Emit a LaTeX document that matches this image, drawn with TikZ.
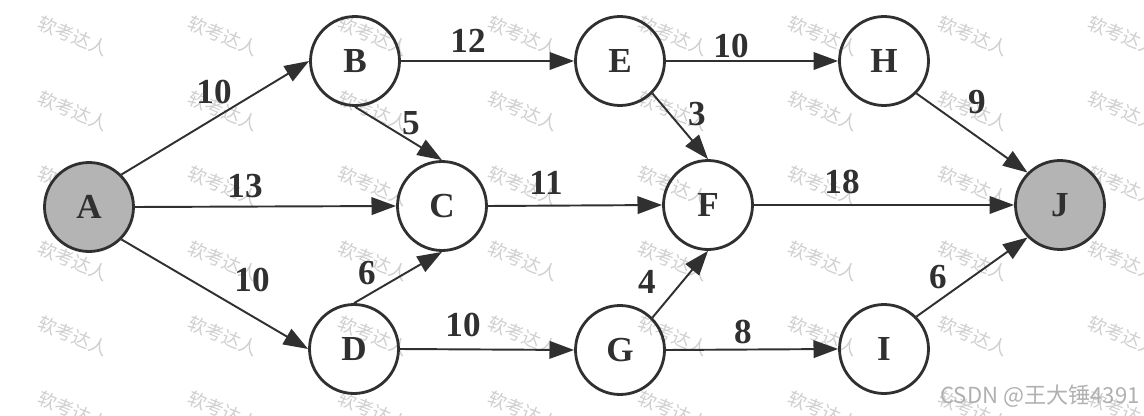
\documentclass[tikz,border=0pt]{standalone}
\usepackage{fontspec}
\setmainfont{Liberation Serif}
\newfontfamily\cjk{Noto Sans CJK SC}
\usetikzlibrary{arrows.meta}
\definecolor{ink}{HTML}{303030}
\definecolor{nodegray}{HTML}{B4B4B4}
\definecolor{wmgray}{HTML}{CFCFCF}
\definecolor{csdngray}{HTML}{B0B0B0}
\tikzset{
  vtx/.style={circle, draw=ink, line width=1.6pt, minimum size=1.78cm, inner sep=0pt,
    font=\fontsize{20}{20}\selectfont\bfseries, text=ink},
  endvtx/.style={vtx, fill=nodegray},
  conn/.style={draw=ink, line width=1.1pt, -{Triangle[length=14pt, width=10pt]}},
  wlabel/.style={font=\fontsize{20}{20}\selectfont\bfseries, text=ink, inner sep=0pt},
  wmark/.style={font=\cjk\fontsize{10.5}{10.5}\selectfont, text=wmgray, rotate=-22, inner sep=0pt}
}
\begin{document}
\begin{tikzpicture}[x=0.02cm, y=-0.02cm]
\useasboundingbox (0,0) rectangle (1144,416);
% watermarks
\foreach \c [count=\ci] in {73,223,373,523,673,823,973,1123}{
  \foreach \r [count=\ri] in {36,111,186,261,336,411}{
    \node[wmark] (wm-\ci-\ri) at (\c,\r) {软考达人};
  }
}
% vertices
\node[endvtx] (A) at (89,207) {A};
\node[vtx] (B) at (355,61) {B};
\node[vtx] (C) at (442,206) {C};
\node[vtx] (D) at (354,349) {D};
\node[vtx] (E) at (620,61) {E};
\node[vtx] (F) at (708,205) {F};
\node[vtx] (G) at (620,350) {G};
\node[vtx] (H) at (884,61) {H};
\node[vtx] (I) at (884,349) {I};
\node[endvtx] (J) at (1060,205) {J};
% connectors
\draw[conn] (A.north east) -- (B.west);
\draw[conn] (A.east) -- (C.west);
\draw[conn] (A.south east) -- (D.west);
\draw[conn] (B.east) -- (E.west);
\draw[conn] (B.south) -- (C.north);
\draw[conn] (D.north) -- (C.south);
\draw[conn] (D.east) -- (G.west);
\draw[conn] (C.east) -- (F.west);
\draw[conn] (E.east) -- (H.west);
\draw[conn] (E.south east) -- (F.north);
\draw[conn] (G.north east) -- (F.south);
\draw[conn] (G.east) -- (I.west);
\draw[conn] (F.east) -- (J.west);
\draw[conn] (H.south east) -- (J.north west);
\draw[conn] (I.north east) -- (J.south west);
% weights
\node[wlabel] (wAB) at (214,92) {10};
\node[wlabel] (wAC) at (245,186) {13};
\node[wlabel] (wAD) at (252,280) {10};
\node[wlabel] (wBC) at (411,123) {5};
\node[wlabel] (wDC) at (367,273) {6};
\node[wlabel] (wBE) at (468,41) {12};
\node[wlabel] (wCF) at (546,183) {11};
\node[wlabel] (wDG) at (463,325) {10};
\node[wlabel] (wEH) at (731,46) {10};
\node[wlabel] (wEF) at (697,114) {3};
\node[wlabel] (wGF) at (647,282) {4};
\node[wlabel] (wGI) at (743,332) {8};
\node[wlabel] (wFJ) at (842,182) {18};
\node[wlabel] (wHJ) at (977,102) {9};
\node[wlabel] (wIJ) at (938,277) {6};
% credit
\node[font=\cjk\fontsize{12.6}{12.6}\selectfont, text=csdngray, inner sep=0pt] (credit) at (1040,396) {CSDN @王大锤4391};
\end{tikzpicture}
\end{document}
